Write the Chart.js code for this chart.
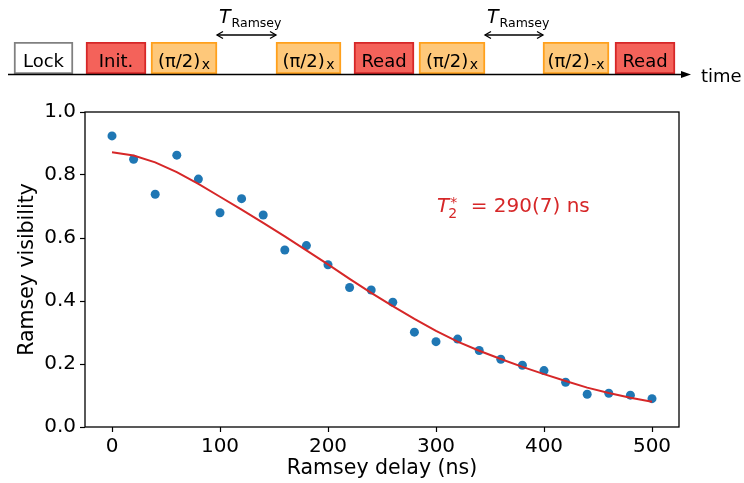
<!DOCTYPE html>
<html>
<head>
<meta charset="utf-8">
<script src="https://cdn.jsdelivr.net/npm/chart.js@4.4.0/dist/chart.umd.min.js"></script>
<style>
  html, body { margin: 0; padding: 0; background: #fff; }
  canvas { display: block; }
</style>
</head>
<body>
<canvas id="sequenceChart" width="744" height="90"></canvas>
<canvas id="ramseyChart" width="744" height="393"></canvas>
<script>
// Ramsey delay (ns), measured visibility and fitted decay
const delays = [0, 20, 40, 60, 80, 100, 120, 140, 160, 180, 200, 220, 240,
  260, 280, 300, 320, 340, 360, 380, 400, 420, 440, 460, 480, 500];
const visibility = [0.924, 0.850, 0.739, 0.863, 0.787, 0.680, 0.725, 0.673,
  0.562, 0.576, 0.515, 0.443, 0.435, 0.396, 0.301, 0.271, 0.279, 0.243,
  0.215, 0.196, 0.179, 0.142, 0.104, 0.107, 0.101, 0.090];
const fitVisibility = [0.872, 0.862, 0.840, 0.809, 0.772, 0.731, 0.690, 0.648,
  0.605, 0.561, 0.516, 0.470, 0.426, 0.384, 0.343, 0.305, 0.271, 0.242,
  0.216, 0.191, 0.168, 0.146, 0.125, 0.108, 0.093, 0.080];
const xTicks = [0, 100, 200, 300, 400, 500];
const yTicks = [0, 0.2, 0.4, 0.6, 0.8, 1.0];
const t2Star = 290;
const t2StarErr = 7;
const t2LabelAt = { x: 301, y: 0.70 };

// Pulse sequence (schematic time units)
const pulseNames = ["Lock", "Init.", "(π/2)", "(π/2)", "Read", "(π/2)", "(π/2)", "Read"];
const pulseSubscripts = ["", "", "x", "x", "", "x", "-x", ""];
const pulseKinds = ["lock", "red", "orange", "orange", "red", "orange", "orange", "red"];
const pulseStart = [14, 86, 151, 276, 354, 419, 543, 615];
const pulseEnd = [73, 146, 217, 341, 414, 485, 609, 675];
const ramseyGaps = [[2, 3], [5, 6]]; // free evolution between these pulses
const timeAxisFrom = 8;
const timeAxisTo = 691;

const FONT = "'DejaVu Sans', sans-serif";

const kindColors = {
  lock: { fill: "#ffffff", edge: "#808080" },
  red: { fill: "#f4625a", edge: "#d62728" },
  orange: { fill: "#fec87a", edge: "#ffa01c" },
};

function arrowHead(ctx, x, y, dir) {
  ctx.beginPath();
  ctx.moveTo(x - dir * 6, y - 3.5);
  ctx.lineTo(x, y);
  ctx.lineTo(x - dir * 6, y + 3.5);
  ctx.stroke();
}

// Text inside boxes, the time arrow and the T_Ramsey markers
const sequenceOverlay = {
  id: "sequenceOverlay",
  afterDatasetsDraw(chart) {
    const { ctx, chartArea } = chart;
    const xs = chart.scales.x;
    ctx.save();
    ctx.fillStyle = "#000";
    ctx.strokeStyle = "#000";
    ctx.textBaseline = "alphabetic";

    pulseNames.forEach((name, i) => {
      const bar = chart.getDatasetMeta(i).data[0];
      const cx = (bar.x + bar.base) / 2;
      const baseY = bar.y + 9;
      const sub = pulseSubscripts[i];
      ctx.font = "18px " + FONT;
      const w1 = ctx.measureText(name).width;
      ctx.font = "14px " + FONT;
      const w2 = sub ? ctx.measureText(sub).width + 1.5 : 0;
      const left = cx - (w1 + w2) / 2;
      ctx.font = "18px " + FONT;
      ctx.fillText(name, left, baseY);
      if (sub) {
        ctx.font = "14px " + FONT;
        ctx.fillText(sub, left + w1 + 1.5, baseY + 2);
      }
    });

    // time axis
    const lineY = chartArea.bottom + 0.5;
    const x0 = xs.getPixelForValue(timeAxisFrom);
    const x1 = xs.getPixelForValue(timeAxisTo);
    ctx.lineWidth = 1.6;
    ctx.beginPath();
    ctx.moveTo(x0, lineY);
    ctx.lineTo(x1 - 6, lineY);
    ctx.stroke();
    ctx.beginPath();
    ctx.moveTo(x1, lineY);
    ctx.lineTo(x1 - 10, lineY - 3.5);
    ctx.lineTo(x1 - 10, lineY + 3.5);
    ctx.closePath();
    ctx.fill();
    ctx.font = "18px " + FONT;
    ctx.fillText("time", x1 + 10, lineY + 7);

    // Ramsey windows
    ramseyGaps.forEach(([a, b]) => {
      const from = xs.getPixelForValue(pulseEnd[a]);
      const to = xs.getPixelForValue(pulseStart[b]);
      const y = 35;
      ctx.lineWidth = 1.3;
      ctx.beginPath();
      ctx.moveTo(from, y);
      ctx.lineTo(to, y);
      ctx.stroke();
      arrowHead(ctx, from, y, -1);
      arrowHead(ctx, to, y, 1);
      ctx.font = "italic 19px " + FONT;
      ctx.fillText("T", from + 2, 23);
      const tw = ctx.measureText("T").width;
      ctx.font = "12.5px " + FONT;
      ctx.fillText("Ramsey", from + tw + 3, 27);
    });
    ctx.restore();
  },
};

new Chart(document.getElementById("sequenceChart"), {
  type: "bar",
  data: {
    labels: ["sequence"],
    datasets: pulseNames.map((name, i) => ({
      label: name,
      data: [[pulseStart[i], pulseEnd[i]]],
      backgroundColor: kindColors[pulseKinds[i]].fill,
      borderColor: kindColors[pulseKinds[i]].edge,
      borderWidth: 2,
      borderSkipped: false,
      grouped: false,
      barPercentage: 1,
      categoryPercentage: 1,
    })),
  },
  options: {
    indexAxis: "y",
    responsive: false,
    animation: false,
    layout: { padding: { top: 42, bottom: 16, left: 0, right: 0 } },
    scales: {
      x: { type: "linear", display: false, min: 0, max: 744 },
      y: { display: false },
    },
    plugins: { legend: { display: false }, tooltip: { enabled: false } },
  },
  plugins: [sequenceOverlay],
});

// Axes frame on all four sides
const frame = {
  id: "frame",
  afterDraw(chart) {
    const { ctx, chartArea: a } = chart;
    ctx.save();
    ctx.strokeStyle = "#000";
    ctx.lineWidth = 1.3;
    ctx.strokeRect(a.left, a.top, a.right - a.left, a.bottom - a.top);
    ctx.restore();
  },
};

// T2* annotation
const t2Label = {
  id: "t2Label",
  afterDatasetsDraw(chart) {
    const { ctx, scales } = chart;
    const px = scales.x.getPixelForValue(t2LabelAt.x);
    const base = scales.y.getPixelForValue(t2LabelAt.y) + 5.5;
    ctx.save();
    ctx.fillStyle = "#d62728";
    ctx.textBaseline = "alphabetic";
    ctx.font = "italic 20px " + FONT;
    ctx.fillText("T", px, base);
    const tw = ctx.measureText("T").width;
    ctx.font = "14px " + FONT;
    ctx.fillText("2", px + tw - 1, base + 6);
    ctx.fillText("*", px + tw + 1, base - 5);
    ctx.font = "20px " + FONT;
    ctx.fillText(` = ${t2Star}(${t2StarErr}) ns`, px + tw + 15, base);
    ctx.restore();
  },
};

const tickFont = { family: FONT, size: 20 };
const titleFont = { family: FONT, size: 20.5 };

new Chart(document.getElementById("ramseyChart"), {
  type: "scatter",
  data: {
    datasets: [
      {
        label: "fit",
        data: delays.map((t, i) => ({ x: t, y: fitVisibility[i] })),
        showLine: true,
        borderColor: "#d62728",
        borderWidth: 2,
        pointRadius: 0,
        tension: 0,
        order: 0,
      },
      {
        label: "data",
        data: delays.map((t, i) => ({ x: t, y: visibility[i] })),
        backgroundColor: "#1f77b4",
        pointRadius: 4.5,
        pointBorderWidth: 0,
        order: 1,
      },
    ],
  },
  options: {
    responsive: false,
    animation: false,
    layout: { padding: { top: 22, right: 65, left: 0, bottom: 0 } },
    scales: {
      x: {
        type: "linear",
        min: -25,
        max: 525,
        afterBuildTicks: (s) => { s.ticks = xTicks.map((v) => ({ value: v })); },
        afterFit: (s) => { s.height = 56; },
        ticks: { color: "#000", font: tickFont, padding: 3, maxRotation: 0, autoSkip: false },
        grid: { drawOnChartArea: false, drawTicks: true, tickLength: 5, tickWidth: 1.2, tickColor: "#000" },
        border: { display: false },
        title: {
          display: true,
          text: "Ramsey delay (ns)",
          color: "#000",
          font: titleFont,
          padding: { top: 0, bottom: 2.5 },
        },
      },
      y: {
        min: 0,
        max: 1,
        afterBuildTicks: (s) => { s.ticks = yTicks.map((v) => ({ value: v })); },
        afterFit: (s) => { s.width = 85; },
        ticks: { color: "#000", font: tickFont, padding: 4, callback: (v) => v.toFixed(1), autoSkip: false },
        grid: { drawOnChartArea: false, drawTicks: true, tickLength: 5, tickWidth: 1.2, tickColor: "#000" },
        border: { display: false },
        title: {
          display: true,
          text: "Ramsey visibility",
          color: "#000",
          font: titleFont,
          padding: { top: 15, bottom: 0 },
        },
      },
    },
    plugins: { legend: { display: false }, tooltip: { enabled: false } },
  },
  plugins: [frame, t2Label],
});
</script>
</body>
</html>
